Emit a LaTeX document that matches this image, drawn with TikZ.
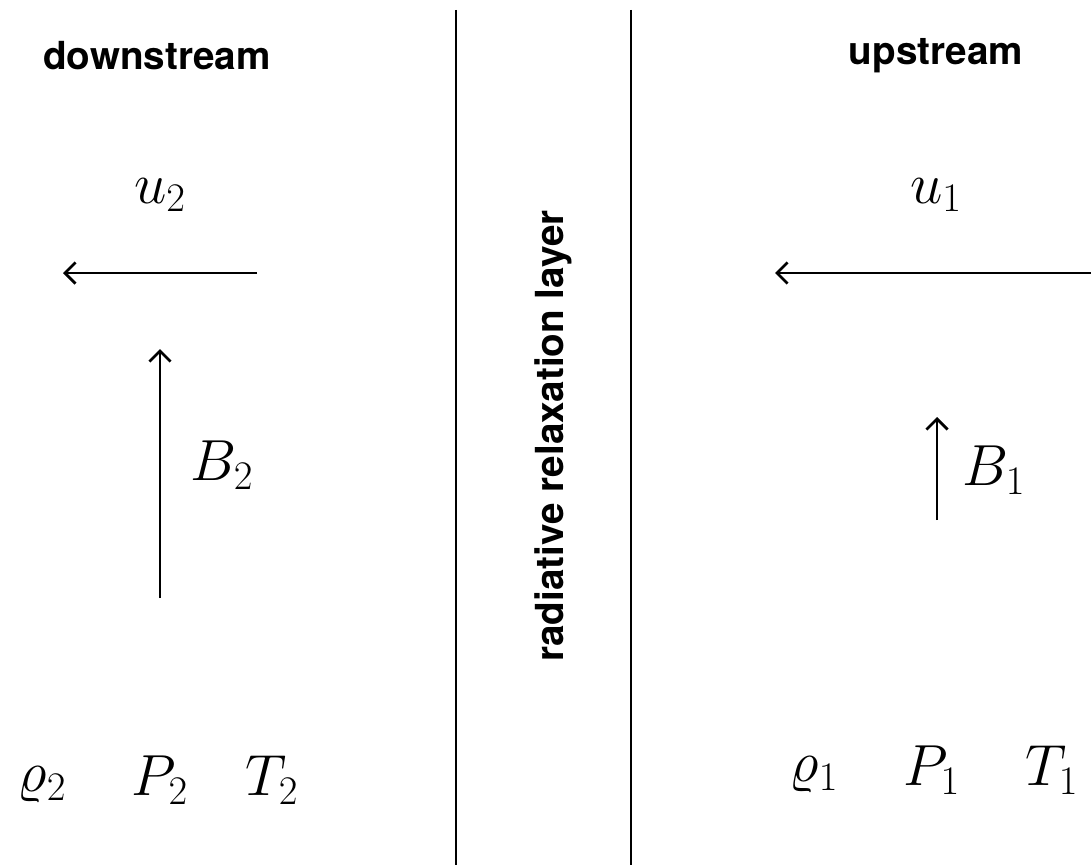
\RequirePackage{fix-cm}
\documentclass[tikz,border=0pt]{standalone}
\usepackage{fontspec}
\setsansfont{TeX Gyre Heros}
\usetikzlibrary{arrows.meta}
\begin{document}
\begin{tikzpicture}[x=0.02cm,y=-0.02cm,
  lbl/.style={font=\sffamily\bfseries\fontsize{22}{26}\selectfont},
  mth/.style={font=\fontsize{33}{40}\selectfont},
  vec/.style={line width=1.6pt,-{Straight Barb[length=6pt,width=12pt,line width=1.6pt]}},
  wall/.style={line width=1.6pt}]
\useasboundingbox (0,0) rectangle (1091,865);
% walls
\coordinate (w1t) at (456,10); \coordinate (w1b) at (456,865);
\coordinate (w2t) at (631,10); \coordinate (w2b) at (631,865);
\draw[wall] (w1t) -- (w1b);
\draw[wall] (w2t) -- (w2b);
% headings
\node[lbl] (down) at (157,56) {downstream};
\node[lbl] (up) at (936,56) {upstream};
\node[lbl,rotate=90] (layer) at (553,436) {radiative relaxation layer};
% velocities
\node[mth] (u2) at (160,195) {$u_2$};
\node[mth] (u1) at (936,195) {$u_1$};
\coordinate (a2s) at (257,273); \coordinate (a2e) at (63,273);
\coordinate (a1s) at (1092,273); \coordinate (a1e) at (775,273);
\draw[vec] (a2s) -- (a2e);
\draw[vec] (a1s) -- (a1e);
% fields
\coordinate (b2s) at (160,598); \coordinate (b2e) at (160,349);
\coordinate (b1s) at (937,520); \coordinate (b1e) at (937,417);
\draw[vec] (b2s) -- (b2e);
\draw[vec] (b1s) -- (b1e);
\node[mth] (B2) at (222,465) {$B_2$};
\node[mth] (B1) at (994,470) {$B_1$};
% states
\node[mth] (rho2) at (42,785) {$\varrho_2$};
\node[mth] (P2) at (160,780) {$P_2$};
\node[mth] (T2) at (272,780) {$T_2$};
\node[mth] (rho1) at (814,775) {$\varrho_1$};
\node[mth] (P1) at (932,770) {$P_1$};
\node[mth] (T1) at (1052,770) {$T_1$};
\end{tikzpicture}
\end{document}
